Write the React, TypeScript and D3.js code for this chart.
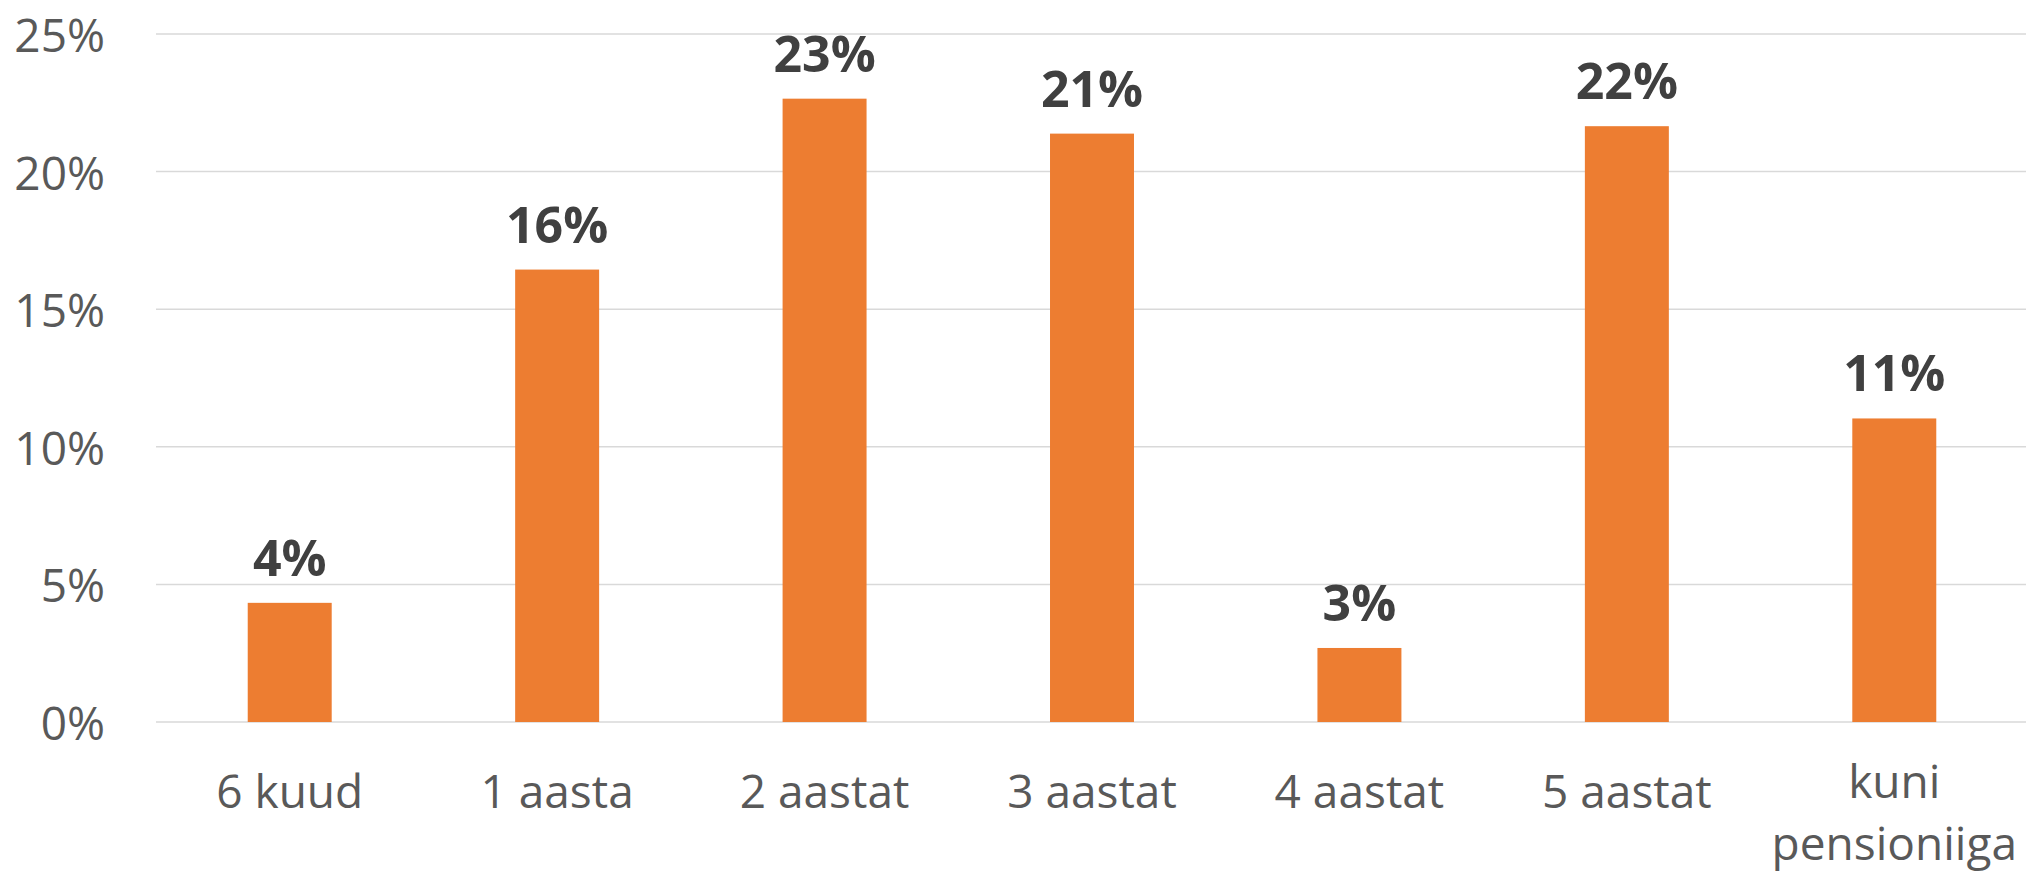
import React from "react";
import * as d3 from "d3";

const categories = ["6 kuud", "1 aasta", "2 aastat", "3 aastat", "4 aastat", "5 aastat", "kuni pensioniiga"];
const values = [4.33, 16.44, 22.65, 21.38, 2.69, 21.65, 11.03];
const yTicks = [0, 5, 10, 15, 20, 25];

const W = 2026;
const H = 882;
const left = 156;
const right = 2028;
const y0 = 722;
const yTop = 34;
const FONT = "'Open Sans', 'Noto Sans', sans-serif";

export default function App() {
  const x = d3.scaleBand<string>().domain(categories).range([left, right]).paddingInner(0.686).paddingOuter(0.343);
  const y = d3.scaleLinear().domain([0, 25]).range([y0, yTop]);

  const wrap = (s: string) => (s === "kuni pensioniiga" ? ["kuni", "pensioniiga"] : [s]);

  return (
    <div style={{ position: "absolute", left: 0, top: 0 }}>
      <svg width={W} height={H} style={{ display: "block", background: "#fff" }}>
        {yTicks.map((t) => (
          <g key={t}>
            <line x1={left} x2={W} y1={y(t)} y2={y(t)} stroke="#D9D9D9" strokeWidth={1.5} />
            <text
              x={105}
              y={y(t)}
              textAnchor="end"
              dominantBaseline="central"
              fontFamily={FONT}
              fontSize={46}
              fill="#595959"
            >
              {t}%
            </text>
          </g>
        ))}
        {categories.map((c, i) => {
          const cx = (x(c) as number) + x.bandwidth() / 2;
          const lines = wrap(c);
          return (
            <g key={c}>
              <rect x={x(c)} y={y(values[i])} width={x.bandwidth()} height={y0 - y(values[i])} fill="#ED7D31" />
              <text
                x={cx}
                y={y(values[i]) - 27}
                textAnchor="middle"
                fontFamily={FONT}
                fontSize={50}
                fontWeight="bold"
                fill="#404040"
              >
                {Math.round(values[i])}%
              </text>
              {lines.map((ln, j) => (
                <text
                  key={j}
                  x={cx}
                  y={lines.length === 1 ? 808 : 798 + j * 62}
                  textAnchor="middle"
                  fontFamily={FONT}
                  fontSize={46}
                  fill="#595959"
                >
                  {ln}
                </text>
              ))}
            </g>
          );
        })}
      </svg>
    </div>
  );
}
